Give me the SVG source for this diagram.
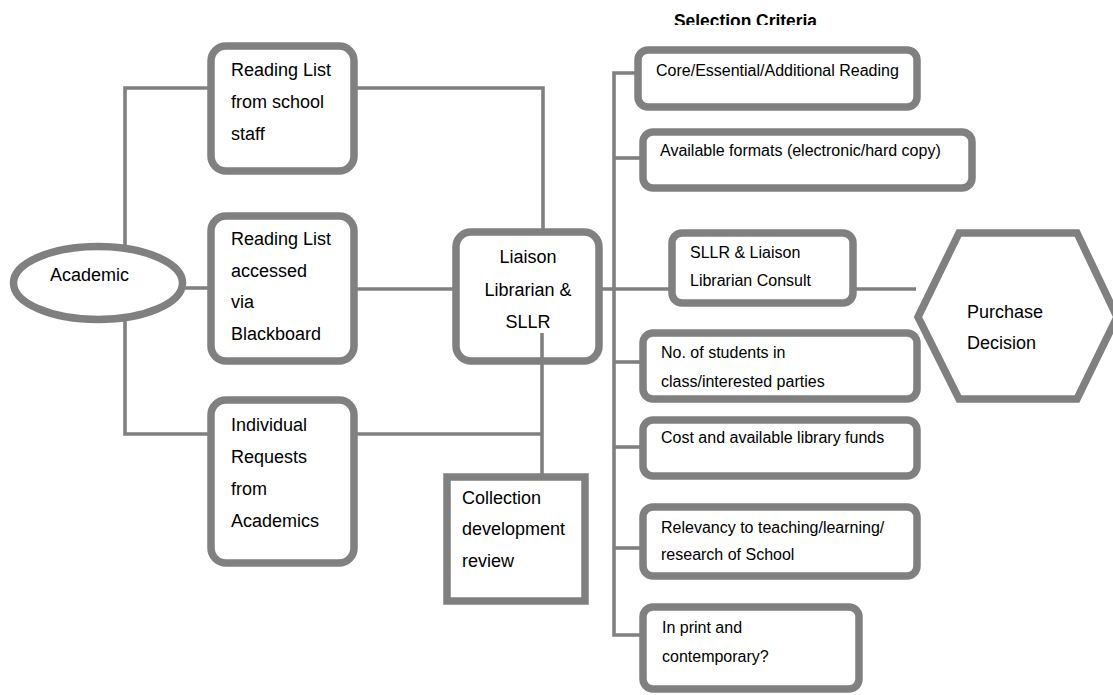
<svg xmlns="http://www.w3.org/2000/svg" width="1113" height="695" viewBox="0 0 1113 695">
<style>
.box{fill:#fff;stroke:#808080;stroke-width:7.5}
.t18{font-family:"Liberation Sans",Arial,sans-serif;font-size:18px;fill:#000}
.t16{font-family:"Liberation Sans",Arial,sans-serif;font-size:16px;fill:#000}
.c{fill:none;stroke:#808080;stroke-width:3.6}
</style>
<defs>
<clipPath id="titleClip"><rect x="0" y="0" width="1113" height="25"/></clipPath>
</defs>
<rect width="1113" height="695" fill="#fff"/>
<g id="title" clip-path="url(#titleClip)">
<text x="674" y="27" font-family="'Liberation Sans',Arial,sans-serif" font-size="18" font-weight="bold" textLength="143" lengthAdjust="spacingAndGlyphs">Selection Criteria</text>
</g>
<g id="nodes">
<g id="academic"><ellipse class="box" cx="98" cy="283" rx="84.5" ry="36.5"/><text class="t18" x="50" y="281">Academic</text></g>
<g id="reading-list-staff"><rect class="box" x="211" y="46" width="143" height="125" rx="15"/><text class="t18" x="231" y="76">Reading List</text><text class="t18" x="231" y="108">from school</text><text class="t18" x="231" y="140">staff</text></g>
<g id="reading-list-blackboard"><rect class="box" x="211" y="216" width="143" height="145" rx="15"/><text class="t18" x="231" y="245">Reading List</text><text class="t18" x="231" y="277">accessed</text><text class="t18" x="231" y="308">via</text><text class="t18" x="231" y="340">Blackboard</text></g>
<g id="individual-requests"><rect class="box" x="211" y="400" width="143" height="163" rx="15"/><text class="t18" x="231" y="431">Individual</text><text class="t18" x="231" y="463">Requests</text><text class="t18" x="231" y="495">from</text><text class="t18" x="231" y="527">Academics</text></g>
<g id="liaison"><rect class="box" x="456" y="232" width="143" height="129" rx="15"/><text class="t18" x="528" y="263" text-anchor="middle">Liaison</text><text class="t18" x="528" y="296" text-anchor="middle">Librarian &amp;</text><text class="t18" x="528" y="328" text-anchor="middle">SLLR</text></g>
<g id="collection-review"><rect class="box" x="447" y="477" width="138" height="124"/><text class="t18" x="462" y="504">Collection</text><text class="t18" x="462" y="535">development</text><text class="t18" x="462" y="567">review</text></g>
<g id="core"><rect class="box" x="638" y="50" width="279" height="57" rx="10"/><text class="t16" x="656" y="76">Core/Essential/Additional Reading</text></g>
<g id="formats"><rect class="box" x="643" y="132" width="329" height="56" rx="10"/><text class="t16" x="660" y="156">Available formats (electronic/hard copy)</text></g>
<g id="consult"><rect class="box" x="672" y="233" width="181" height="70" rx="10"/><text class="t16" x="690" y="258">SLLR &amp; Liaison</text><text class="t16" x="690" y="286">Librarian Consult</text></g>
<g id="students"><rect class="box" x="643" y="333" width="274" height="66" rx="10"/><text class="t16" x="661" y="358">No. of students in</text><text class="t16" x="661" y="387">class/interested parties</text></g>
<g id="cost"><rect class="box" x="643" y="420" width="274" height="56" rx="10"/><text class="t16" x="661" y="443">Cost and available library funds</text></g>
<g id="relevancy"><rect class="box" x="643" y="507" width="274" height="69" rx="10"/><text class="t16" x="661" y="533">Relevancy to teaching/learning/</text><text class="t16" x="661" y="560">research of School</text></g>
<g id="in-print"><rect class="box" x="643" y="607" width="216" height="82" rx="10"/><text class="t16" x="662" y="633">In print and</text><text class="t16" x="662" y="662">contemporary?</text></g>
<g id="purchase-decision"><polygon class="box" points="918,317 959,233 1077,233 1117,317 1077,399 959,399"/><text class="t18" x="967" y="318">Purchase</text><text class="t18" x="967" y="349">Decision</text></g>
</g>
<g id="connectors">
<polyline class="c" points="125,247 125,88 211,88"/>
<polyline class="c" points="125,319 125,434 211,434"/>
<line class="c" x1="182" y1="288" x2="211" y2="288"/>
<polyline class="c" points="354,88 543,88 543,232"/>
<line class="c" x1="354" y1="289" x2="456" y2="289"/>
<line class="c" x1="354" y1="434" x2="542" y2="434"/>
<line class="c" x1="542" y1="333" x2="542" y2="477"/>
<line class="c" x1="599" y1="289" x2="672" y2="289"/>
<polyline class="c" points="638,73 614,73 614,635 643,635"/>
<line class="c" x1="614" y1="158" x2="643" y2="158"/>
<line class="c" x1="614" y1="362" x2="643" y2="362"/>
<line class="c" x1="614" y1="447" x2="643" y2="447"/>
<line class="c" x1="614" y1="548" x2="643" y2="548"/>
<line class="c" x1="853" y1="289" x2="916" y2="289"/>
</g>
</svg>
